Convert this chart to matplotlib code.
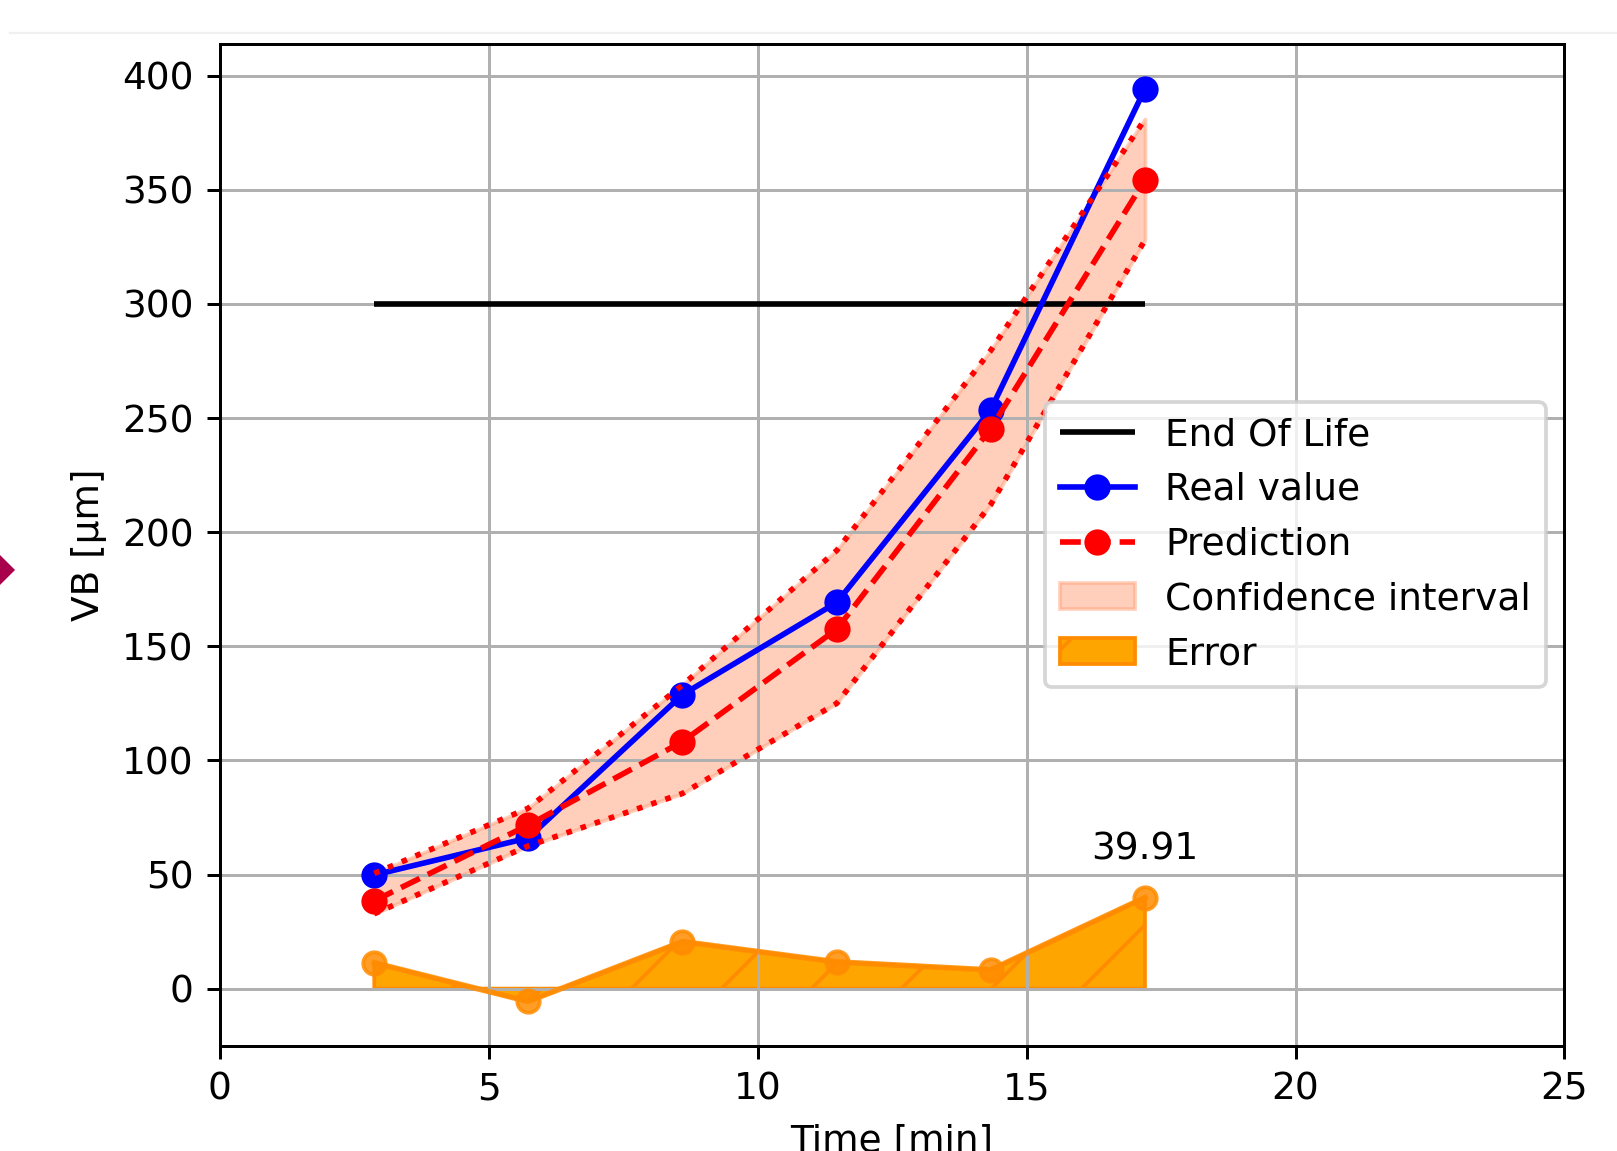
import numpy as np
import matplotlib
matplotlib.use('Agg')
import matplotlib.pyplot as plt
from matplotlib.patches import Polygon
from matplotlib.lines import Line2D

# data
time_min = [2.87, 5.73, 8.6, 11.47, 14.33, 17.2]
real_vb = [49.8, 66.0, 128.8, 169.2, 253.5, 394.2]
pred_vb = [38.5, 71.6, 108.2, 157.5, 245.3, 354.29]
ci_upper = [50.5, 79.0, 133.0, 192.0, 279.5, 381.0]
ci_lower = [32.8, 62.5, 85.5, 125.0, 212.0, 328.0]
end_of_life = 300

error = np.array(real_vb) - np.array(pred_vb)

fig = plt.figure(figsize=(1617 / 270, 1151 / 270), dpi=270)
ax = fig.add_axes([0.136, 0.0915, 0.8315, 0.8705])

# End of life threshold
ax.hlines(end_of_life, time_min[0], time_min[-1], colors='black', label='End Of Life')

# real and predicted wear
ax.plot(time_min, real_vb, 'o-', color='blue', label='Real value')
ax.plot(time_min, pred_vb, 'o--', color='red', label='Prediction')

# confidence interval
ax.fill_between(time_min, ci_lower, ci_upper, color='lightsalmon', alpha=0.5,
                label='Confidence interval')
ax.plot(time_min, ci_upper, ':', color='red')
ax.plot(time_min, ci_lower, ':', color='red')

# error
ax.fill_between(time_min, error, 0, facecolor='orange', edgecolor='darkorange',
                hatch='/', linewidth=1.0, label='Error')
ax.plot(time_min, error, 'o-', color='darkorange', alpha=0.85)
ax.text(time_min[-1], error[-1] + 13, f'{error[-1]:.2f}', ha='center', va='bottom')

ax.set_xlim(0, 25)
ax.set_ylim(-25, 414)
ax.set_xlabel('Time [min]')
ax.set_ylabel('VB [μm]')
ax.grid(True)
ax.legend(loc='center right')

# screenshot leftovers at the figure edges
fig.add_artist(Polygon([[0, 0.5048 + 0.013], [0.0093, 0.5048], [0, 0.5048 - 0.013],
                        [-0.0093, 0.5048]], closed=True, transform=fig.transFigure,
                       facecolor='#a8004a', edgecolor='none'))
fig.add_artist(Line2D([0.006, 1], [1 - 33 / 1151, 1 - 33 / 1151], transform=fig.transFigure,
                      color='#f0f0f0', lw=0.6))

fig.savefig('out.png', dpi=270)
